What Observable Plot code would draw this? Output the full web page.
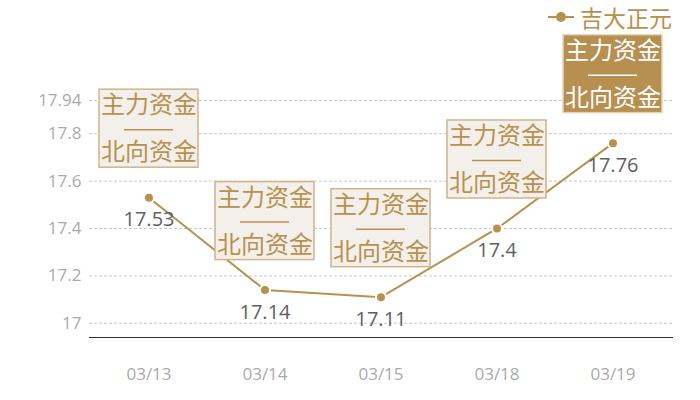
<!DOCTYPE html>
<html><head><meta charset="utf-8">
<script src="https://cdn.jsdelivr.net/npm/d3@7"></script>
<script src="https://cdn.jsdelivr.net/npm/@observablehq/plot@0.6"></script>
<style>
body{margin:0;background:#fff;}
#wrap{position:relative;width:700px;height:400px;}
#legend{position:absolute;left:548px;top:6px;display:flex;align-items:center;color:#b8914f;font-size:23px;font-family:"Noto Sans CJK SC",sans-serif;line-height:22px;height:22px;}
</style></head><body>
<div id="wrap"><div id="legend"><svg width="26" height="12"><line x1="0" x2="26" y1="6" y2="6" stroke="#b8914f" stroke-width="2"/><circle cx="13" cy="6" r="5" fill="#b8914f"/></svg><span id="legendText" style="margin-left:6px"></span></div></div>
<script>
const seriesName = "吉大正元";
const dates = ["03/13", "03/14", "03/15", "03/18", "03/19"];
const values = [17.53, 17.14, 17.11, 17.4, 17.76];
const yTicks = [17, 17.2, 17.4, 17.6, 17.8, 17.94];
const yDomain = [16.94, 17.94];
const boxTop = "主力资金";
const boxBottom = "北向资金";
const highlighted = ["03/19"];

const gold = "#b8914f";
const data = dates.map((d, i) => ({date: d, value: values[i], hi: highlighted.includes(d)}));
document.getElementById("legendText").textContent = seriesName;
const textFill = d => d.hi ? "#ffffff" : gold;
const cjk = "'Noto Sans CJK SC',sans-serif";

const chart = Plot.plot({
  width: 700, height: 400,
  marginLeft: 89, marginRight: 27, marginTop: 100, marginBottom: 63,
  style: {fontFamily: "'Open Sans','Noto Sans CJK SC',sans-serif", background: "transparent", overflow: "visible"},
  x: {type: "band", domain: dates, paddingInner: 0.144, paddingOuter: 0.072, label: null},
  y: {domain: yDomain, label: null},
  color: {type: "identity"},
  marks: [
    Plot.gridY(yTicks, {stroke: "#c8c8c8", strokeOpacity: 1, strokeDasharray: "3,2", strokeWidth: 1}),
    Plot.axisY(yTicks, {tickSize: 0, tickPadding: 8, tickFormat: d => String(d), fontSize: 17, fill: "#aaa", label: null}),
    Plot.axisX({tickSize: 0, tickPadding: 30, fontSize: 17, fill: "#aaa", label: null}),
    Plot.ruleY([yDomain[0]], {stroke: "#333", strokeWidth: 1.2}),
    Plot.line(data, {x: "date", y: "value", stroke: gold, strokeWidth: 2}),
    Plot.dot(data, {x: "date", y: "value", r: 5, fill: gold, stroke: "white", strokeWidth: 2}),
    Plot.barY(data, {x: "date", y1: "value", y2: "value", insetTop: -108, insetBottom: 30,
      fill: d => d.hi ? "#b68f51" : "#f3f0eb", stroke: d => d.hi ? "#e6d6bc" : "#cfb48a", strokeWidth: 1.5}),
    Plot.text(data, {x: "date", y: "value", text: () => boxTop, dy: -92, fontSize: 24, fill: textFill, fontFamily: cjk}),
    Plot.tickY(data, {x: "date", y: "value", dy: -68, insetLeft: 25, insetRight: 25, stroke: textFill, strokeWidth: 1.5}),
    Plot.text(data, {x: "date", y: "value", text: () => boxBottom, dy: -45, fontSize: 24, fill: textFill, fontFamily: cjk}),
    Plot.text(data, {x: "date", y: "value", text: d => String(d.value), dy: 22, fontSize: 20, fill: "#5f5f5f"})
  ]
});
document.getElementById("wrap").appendChild(chart);
</script>
</body></html>
